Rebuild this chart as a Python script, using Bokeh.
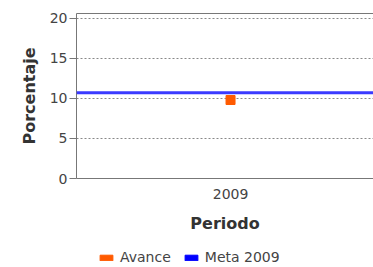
from bokeh.plotting import figure
from bokeh.layouts import column
from bokeh.models import Range1d, FixedTicker, Legend, LegendItem, Span, ColumnDataSource, LinearAxis
from bokeh.embed import file_html
from bokeh.resources import INLINE

periods = ["2009"]
avance = [9.8]
meta_2009 = 10.7
y_ticks = [0, 5, 10, 15, 20]

FONT = "DejaVu Sans"
ORANGE = "#ff5a00"
BLUE_LINE = "#3a3aff"
BLUE_KEY = "#0000ff"

p = figure(width=373, height=245, output_backend="svg", toolbar_location=None,
           x_range=Range1d(-0.5, 0.464), y_range=Range1d(0, 20.6),
           min_border_left=76, min_border_right=0, min_border_top=13, min_border_bottom=67)

idx = list(range(len(periods)))
src = ColumnDataSource(dict(x=idx, y=avance, m=[meta_2009] * len(idx)))
p.scatter("x", "y", source=src, marker="square", size=9, fill_color=ORANGE, line_color=ORANGE)

span = Span(location=meta_2009, dimension="width", line_color=BLUE_LINE, line_width=3)
p.add_layout(span)

p.xaxis.ticker = FixedTicker(ticks=idx)
p.xaxis.major_label_overrides = {i: s for i, s in zip(idx, periods)}
p.yaxis.ticker = FixedTicker(ticks=y_ticks)

for ax in (p.xaxis[0], p.yaxis[0]):
    ax.axis_line_color = "#777777"
    ax.major_tick_line_color = "#777777"
    ax.minor_tick_line_color = None
    ax.major_label_text_font = FONT
    ax.major_label_text_font_size = "14px"
    ax.major_label_text_color = "#444444"
    ax.axis_label_text_font = FONT
    ax.axis_label_text_font_size = "16px"
    ax.axis_label_text_font_style = "bold"
    ax.axis_label_text_color = "#333333"

p.xaxis.axis_label = "Periodo"
p.yaxis.axis_label = "Porcentaje"
p.xaxis.major_tick_line_color = None
p.xaxis.major_label_standoff = 4
p.xaxis.axis_label_standoff = 12
p.yaxis.major_tick_in = 0
p.yaxis.major_tick_out = 7
p.yaxis.major_label_standoff = 2
p.yaxis.axis_label_standoff = 8

# top border line only
top = LinearAxis(ticker=FixedTicker(ticks=[]), axis_line_color="#777777",
                 major_tick_line_color=None, minor_tick_line_color=None,
                 major_label_text_font_size="0px")
p.add_layout(top, "above")

p.xgrid.grid_line_color = None
p.ygrid.grid_line_color = "#888888"
p.ygrid.grid_line_dash = "2 2"
p.outline_line_color = None

# legend strip
lf = figure(width=373, height=22, output_backend="svg", toolbar_location=None,
            x_axis_type=None, y_axis_type=None, min_border=0)
lf.grid.grid_line_color = None
lf.outline_line_color = None
r_av = lf.rect(x="x", y="y", source=src, width=0, height=0, fill_color=ORANGE, line_color=ORANGE, visible=False)
r_me = lf.rect(x="x", y="m", source=src, width=0, height=0, fill_color=BLUE_KEY, line_color=BLUE_KEY, visible=False)
legend = Legend(items=[LegendItem(label="Avance", renderers=[r_av]),
                       LegendItem(label="Meta 2009", renderers=[r_me])],
                orientation="horizontal", location=(22, 2),
                label_text_font=FONT, label_text_font_size="14px", label_text_color="#444444",
                glyph_width=16, glyph_height=7, label_height=14, spacing=12, padding=0, margin=0,
                border_line_alpha=0, background_fill_alpha=0, label_standoff=6,
                inactive_fill_alpha=0)
lf.add_layout(legend)

layout = column(p, lf, spacing=0)
open("out.html", "w").write(file_html(layout, INLINE))
